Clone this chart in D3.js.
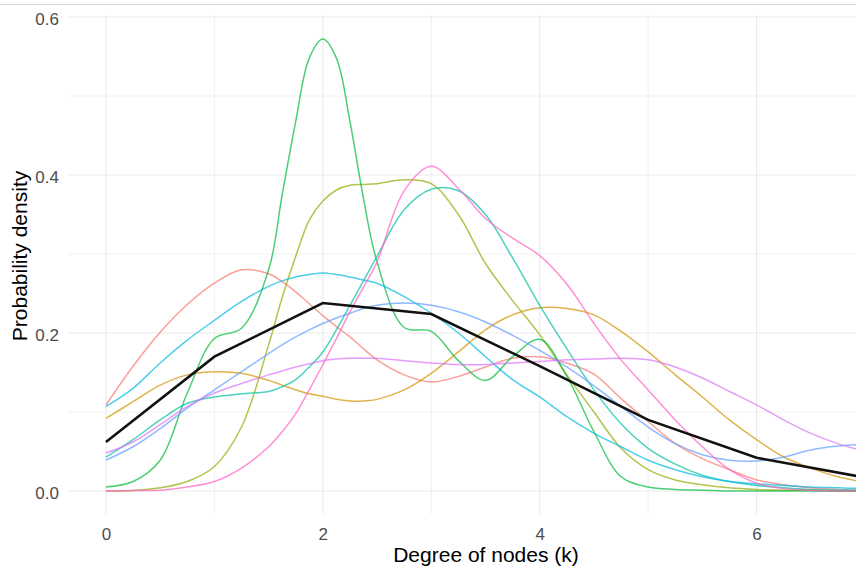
<!DOCTYPE html>
<html>
<head>
<meta charset="utf-8">
<style>
    body { margin: 0; background: #fff; }
    text { font-family: "Liberation Sans", Arial, sans-serif; }
</style>
</head>
<body>
    <script src="https://d3js.org/d3.v7.min.js"></script>
    <svg width="856" height="572"></svg>
    <script>
    // degree values where the density curves were read
    var kGrid = [0, 0.25, 0.5, 0.75, 1, 1.25, 1.5, 1.625, 1.75, 1.875, 2, 2.125, 2.25, 2.375, 2.5,
                 2.75, 3, 3.25, 3.5, 3.75, 4, 4.25, 4.5, 4.75, 5, 5.25, 5.5, 5.75, 6, 6.25, 6.5, 6.75, 7];

    var dens1 = [0.109, 0.158, 0.201, 0.236, 0.263, 0.280, 0.275, 0.265, 0.252, 0.237, 0.222, 0.208, 0.195, 0.180, 0.166,
                 0.147, 0.138, 0.145, 0.157, 0.168, 0.170, 0.162, 0.148, 0.117, 0.088, 0.060, 0.041, 0.027, 0.014, 0.008, 0.004, 0.002, 0.001];
    var dens2 = [0.092, 0.113, 0.134, 0.147, 0.151, 0.149, 0.140, 0.134, 0.128, 0.123, 0.120, 0.116, 0.114, 0.114, 0.116,
                 0.128, 0.149, 0.176, 0.204, 0.223, 0.232, 0.231, 0.223, 0.202, 0.176, 0.147, 0.119, 0.090, 0.065, 0.043, 0.029, 0.018, 0.011];
    var dens3 = [0.000, 0.0005, 0.004, 0.012, 0.031, 0.081, 0.185, 0.245, 0.297, 0.343, 0.367, 0.381, 0.387, 0.388, 0.389,
                 0.394, 0.389, 0.350, 0.288, 0.241, 0.198, 0.147, 0.100, 0.054, 0.027, 0.014, 0.008, 0.004, 0.002, 0.001, 0.001, 0.000, 0.000];
    var dens4 = [0.005, 0.012, 0.039, 0.124, 0.193, 0.206, 0.280, 0.375, 0.468, 0.548, 0.572, 0.548, 0.468, 0.370, 0.290,
                 0.207, 0.202, 0.165, 0.140, 0.170, 0.192, 0.145, 0.075, 0.018, 0.005, 0.002, 0.001, 0.000, 0.000, 0.000, 0.000, 0.000, 0.000];
    var dens5 = [0.043, 0.065, 0.090, 0.111, 0.119, 0.123, 0.126, 0.132, 0.141, 0.157, 0.176, 0.204, 0.235, 0.266, 0.297,
                 0.356, 0.382, 0.380, 0.350, 0.295, 0.235, 0.180, 0.128, 0.085, 0.054, 0.034, 0.020, 0.012, 0.007, 0.004, 0.002, 0.001, 0.001];
    var dens6 = [0.107, 0.130, 0.162, 0.191, 0.216, 0.240, 0.259, 0.266, 0.271, 0.274, 0.276, 0.274, 0.271, 0.267, 0.263,
                 0.246, 0.225, 0.200, 0.170, 0.141, 0.119, 0.094, 0.073, 0.056, 0.039, 0.027, 0.018, 0.012, 0.009, 0.007, 0.005, 0.004, 0.003];
    var dens7 = [0.039, 0.056, 0.079, 0.105, 0.128, 0.151, 0.174, 0.185, 0.195, 0.204, 0.212, 0.219, 0.225, 0.231, 0.235,
                 0.238, 0.235, 0.227, 0.214, 0.197, 0.178, 0.157, 0.133, 0.107, 0.081, 0.060, 0.046, 0.039, 0.038, 0.043, 0.052, 0.057, 0.059];
    var dens8 = [0.048, 0.062, 0.084, 0.107, 0.124, 0.136, 0.147, 0.152, 0.157, 0.161, 0.165, 0.167, 0.168, 0.168, 0.168,
                 0.165, 0.162, 0.160, 0.160, 0.162, 0.164, 0.166, 0.167, 0.168, 0.166, 0.157, 0.143, 0.126, 0.109, 0.090, 0.073, 0.060, 0.050];
    var dens9 = [0.000, 0.0005, 0.001, 0.005, 0.012, 0.029, 0.056, 0.075, 0.098, 0.128, 0.160, 0.193, 0.227, 0.258, 0.290,
                 0.380, 0.411, 0.383, 0.345, 0.320, 0.298, 0.262, 0.212, 0.166, 0.128, 0.090, 0.056, 0.027, 0.010, 0.003, 0.001, 0.000, 0.000];

    // black reference line at whole degrees
    var kInt = [0, 1, 2, 3, 4, 5, 6, 7];
    var meanDens = [0.062, 0.170, 0.238, 0.224, 0.158, 0.090, 0.042, 0.017];

    var xTicks = [0, 2, 4, 6];
    var yTicks = [0, 0.2, 0.4, 0.6];

    var allSeries = [dens1, dens2, dens3, dens4, dens5, dens6, dens7, dens8, dens9];
    var colors = ["#F8766D", "#D39200", "#93AA00", "#00BA38", "#00C19F", "#00B9E3", "#619CFF", "#DB72FB", "#FF61C3"];

    var svg = d3.select("svg");
    var panelTop = 15, panelBottom = 514, panelLeft = 68, panelRight = 903;

    var xScale = d3.scaleLinear().domain([-0.35, 7.35]).range([panelLeft, panelRight]);
    var yScale = d3.scaleLinear().domain([0, 0.6]).range([491, 17]);

    // thin line along the top of the image
    svg.append("line")
        .attr("x1", 0).attr("x2", 856).attr("y1", 4.5).attr("y2", 4.5)
        .style("stroke", "#d5d8de").style("stroke-width", 1);

    // grid
    var grid = svg.append("g");
    grid.selectAll(".vminor").data([1, 3, 5, 7]).enter().append("line")
        .attr("x1", d => xScale(d)).attr("x2", d => xScale(d))
        .attr("y1", panelTop).attr("y2", panelBottom)
        .style("stroke", "#ececec").style("stroke-width", 0.8);
    grid.selectAll(".hminor").data([0.1, 0.3, 0.5]).enter().append("line")
        .attr("y1", d => yScale(d)).attr("y2", d => yScale(d))
        .attr("x1", panelLeft).attr("x2", panelRight)
        .style("stroke", "#ececec").style("stroke-width", 0.8);
    grid.selectAll(".vmajor").data(xTicks).enter().append("line")
        .attr("x1", d => xScale(d)).attr("x2", d => xScale(d))
        .attr("y1", panelTop).attr("y2", panelBottom)
        .style("stroke", "#ebebeb").style("stroke-width", 1.2);
    grid.selectAll(".hmajor").data(yTicks).enter().append("line")
        .attr("y1", d => yScale(d)).attr("y2", d => yScale(d))
        .attr("x1", panelLeft).attr("x2", panelRight)
        .style("stroke", "#ebebeb").style("stroke-width", 1.2);

    // density curves
    var densLine = d3.line()
        .x((d, i) => xScale(kGrid[i]))
        .y(d => yScale(Math.max(d, 0)))
        .curve(d3.curveCatmullRom.alpha(0.5));

    svg.append("g").selectAll("path")
        .data(allSeries)
        .enter().append("path")
        .attr("d", d => densLine(d))
        .style("fill", "none")
        .style("stroke", (d, i) => colors[i])
        .style("stroke-opacity", 0.7)
        .style("stroke-width", 1.5);

    var meanLine = d3.line()
        .x((d, i) => xScale(kInt[i]))
        .y(d => yScale(d));

    svg.append("path")
        .attr("d", meanLine(meanDens))
        .style("fill", "none")
        .style("stroke", "#111")
        .style("stroke-width", 2.6);

    // axes (labels only)
    var xAxis = svg.append("g")
        .attr("transform", "translate(0," + panelBottom + ")")
        .call(d3.axisBottom(xScale).tickValues(xTicks).tickFormat(d3.format("d")).tickSize(0).tickPadding(14));
    xAxis.select(".domain").remove();
    xAxis.selectAll("text").style("font-size", "17px").style("fill", "#4d4d4d")
        .style("font-family", "'Liberation Sans', Arial, sans-serif");

    var yAxis = svg.append("g")
        .attr("transform", "translate(" + panelLeft + ",0)")
        .call(d3.axisLeft(yScale).tickValues(yTicks).tickFormat(d3.format(".1f")).tickSize(0).tickPadding(9));
    yAxis.select(".domain").remove();
    yAxis.selectAll("text").attr("dy", "0.45em").style("font-size", "17px").style("fill", "#4d4d4d")
        .style("font-family", "'Liberation Sans', Arial, sans-serif");

    svg.append("text")
        .attr("x", 486).attr("y", 562)
        .attr("text-anchor", "middle")
        .style("font-size", "21px").style("fill", "#000")
        .text("Degree of nodes (k)");

    svg.append("text")
        .attr("transform", "translate(27,256) rotate(-90)")
        .attr("text-anchor", "middle")
        .style("font-size", "21px").style("fill", "#000")
        .text("Probability density");
    </script>
</body>
</html>
